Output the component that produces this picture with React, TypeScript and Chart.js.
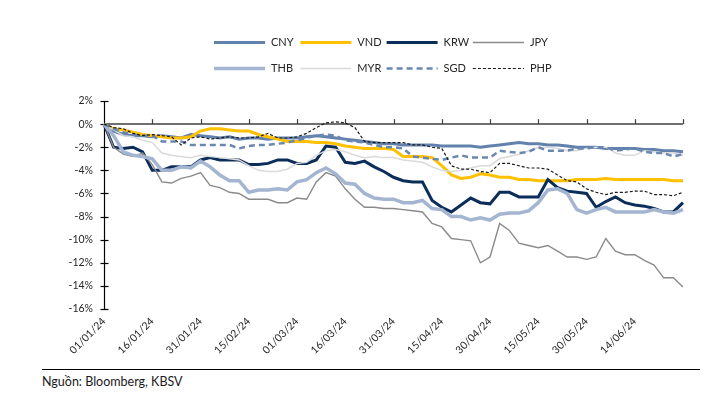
import React, { useEffect, useRef } from "react";
import { Chart, registerables } from "chart.js";
Chart.register(...registerables);

// sampling: one point every 3 days from 01/01/2024 to 29/06/2024
const STEP_DAYS = 3;
const POINT_COUNT = 61;
const TICK_EVERY = 5;
const pad2 = (n: number) => (n < 10 ? "0" + n : "" + n);
const CATEGORIES: string[] = Array.from({ length: POINT_COUNT }, (_, i) => {
  const d = new Date(2024, 0, 1 + i * STEP_DAYS);
  return `${pad2(d.getDate())}/${pad2(d.getMonth() + 1)}/${String(d.getFullYear()).slice(2)}`;
});

const TICK_LABELS = [
  "01/01/24", "16/01/24", "31/01/24", "15/02/24", "01/03/24", "16/03/24",
  "31/03/24", "15/04/24", "30/04/24", "15/05/24", "30/05/24", "14/06/24",
];

const Y_TICKS = [2, 0, -2, -4, -6, -8, -10, -12, -14, -16];

const CNY = [0, -0.6, -0.9, -1.0, -1.0, -1.1, -1.0, -1.1, -1.2, -0.9, -1.0, -1.1, -1.2, -1.1, -1.3, -1.2, -1.2, -1.3, -1.2, -1.2, -1.2, -1.1, -1.0, -1.1, -1.2, -1.3, -1.4, -1.5, -1.6, -1.7, -1.7, -1.8, -1.8, -1.8, -1.8, -1.9, -1.9, -1.9, -1.9, -2.0, -1.9, -1.8, -1.7, -1.6, -1.7, -1.7, -1.8, -1.8, -1.9, -2.0, -2.0, -2.0, -2.1, -2.1, -2.1, -2.1, -2.2, -2.2, -2.3, -2.3, -2.4];
const VND = [0, -0.4, -0.5, -0.7, -0.9, -1.0, -1.1, -1.2, -1.2, -1.1, -0.6, -0.4, -0.4, -0.5, -0.6, -0.6, -0.9, -1.1, -1.3, -1.5, -1.5, -1.5, -1.6, -1.6, -1.7, -1.9, -2.0, -2.1, -2.1, -2.1, -2.2, -2.8, -2.8, -2.8, -2.9, -3.6, -4.4, -4.7, -4.6, -4.3, -4.4, -4.6, -4.6, -4.8, -4.8, -4.9, -4.9, -4.9, -4.9, -4.8, -4.8, -4.8, -4.7, -4.8, -4.8, -4.8, -4.8, -4.8, -4.8, -4.9, -4.9];
const KRW = [0, -2.0, -2.1, -2.0, -2.4, -4.0, -4.0, -3.7, -3.7, -3.7, -3.1, -2.9, -3.1, -3.1, -3.1, -3.5, -3.5, -3.4, -3.1, -3.1, -3.4, -3.4, -3.1, -1.9, -2.0, -3.3, -3.4, -3.2, -3.7, -4.1, -4.6, -4.9, -5.0, -5.0, -6.6, -7.2, -7.6, -7.0, -6.4, -6.8, -6.9, -5.9, -5.9, -6.3, -6.3, -6.3, -4.8, -5.5, -5.8, -5.9, -6.0, -7.2, -6.7, -6.3, -6.8, -7.0, -7.1, -7.3, -7.6, -7.6, -6.8];
const JPY = [0, -2.0, -2.6, -2.8, -2.5, -3.5, -5.0, -5.1, -4.7, -4.5, -4.2, -5.3, -5.5, -5.9, -6.0, -6.5, -6.5, -6.5, -6.8, -6.8, -6.4, -6.5, -5.0, -4.2, -4.5, -5.6, -6.5, -7.2, -7.2, -7.3, -7.3, -7.4, -7.5, -7.6, -8.6, -8.9, -9.9, -10.0, -10.1, -12.0, -11.5, -8.6, -9.2, -10.3, -10.5, -10.7, -10.5, -11.0, -11.5, -11.5, -11.7, -11.5, -9.9, -11.0, -11.3, -11.3, -11.8, -12.2, -13.3, -13.3, -14.1];
const THB = [0, -1.0, -2.4, -2.7, -2.8, -3.0, -4.0, -4.0, -3.7, -3.8, -3.2, -3.7, -4.4, -4.9, -4.9, -5.9, -5.7, -5.7, -5.6, -5.7, -5.0, -4.8, -4.2, -3.8, -4.3, -5.1, -5.2, -6.0, -6.4, -6.5, -6.5, -6.8, -6.8, -6.6, -7.3, -7.4, -8.0, -8.0, -8.3, -8.1, -8.3, -7.8, -7.7, -7.7, -7.5, -6.8, -5.7, -5.6, -6.0, -7.4, -7.7, -7.4, -7.2, -7.6, -7.6, -7.6, -7.6, -7.4, -7.6, -7.7, -7.4];
const MYR = [0, -0.5, -1.0, -1.1, -1.4, -1.6, -2.5, -2.7, -2.8, -2.9, -2.7, -2.8, -2.9, -3.0, -3.1, -3.6, -4.0, -4.1, -4.1, -3.9, -3.4, -3.3, -2.7, -2.3, -2.2, -2.4, -2.7, -2.9, -2.8, -2.9, -2.9, -3.1, -3.2, -3.3, -3.7, -4.0, -4.1, -4.0, -3.8, -3.6, -3.6, -3.0, -2.8, -2.6, -2.3, -2.0, -2.0, -2.1, -2.3, -2.3, -2.1, -2.0, -2.0, -2.5, -2.7, -2.7, -2.3, -2.4, -2.5, -2.5, -2.7];
const SGD = [0, -0.4, -0.7, -0.9, -1.0, -1.0, -1.5, -1.5, -1.5, -1.8, -1.8, -1.8, -1.8, -1.8, -2.1, -1.9, -1.8, -1.8, -1.7, -1.6, -1.4, -1.2, -1.0, -0.9, -1.0, -1.4, -1.5, -1.6, -1.8, -2.0, -2.0, -2.1, -2.8, -2.9, -3.0, -3.1, -2.9, -2.7, -2.9, -2.9, -2.9, -2.3, -2.4, -2.5, -2.4, -2.0, -2.3, -2.3, -2.3, -2.1, -2.1, -2.0, -2.0, -2.3, -2.2, -2.1, -2.4, -2.5, -2.5, -2.8, -2.6];
const PHP = [0, -0.3, -0.4, -0.8, -1.0, -0.9, -1.0, -1.1, -1.8, -1.2, -1.1, -1.3, -1.2, -1.1, -1.2, -1.2, -1.1, -0.8, -1.2, -1.2, -1.1, -0.8, -0.3, 0.1, 0.2, 0.1, -0.3, -1.5, -1.6, -1.6, -1.6, -1.6, -1.8, -1.8, -2.0, -2.1, -3.6, -3.9, -3.9, -4.1, -4.2, -3.4, -3.4, -3.6, -3.8, -3.8, -3.9, -4.4, -4.9, -5.0, -5.6, -5.9, -6.1, -5.9, -5.9, -5.8, -5.8, -6.1, -6.1, -6.2, -5.9];

const SERIES = [
  { label: "CNY", data: CNY, color: "#6281AC", width: 3, dash: [] as number[] },
  { label: "VND", data: VND, color: "#FFC000", width: 3, dash: [] as number[] },
  { label: "KRW", data: KRW, color: "#0B2D5A", width: 3, dash: [] as number[] },
  { label: "JPY", data: JPY, color: "#8A8A8A", width: 1.4, dash: [] as number[] },
  { label: "THB", data: THB, color: "#A3B5D1", width: 3.5, dash: [] as number[] },
  { label: "MYR", data: MYR, color: "#DADADA", width: 1.5, dash: [] as number[] },
  { label: "SGD", data: SGD, color: "#6A87B2", width: 2.5, dash: [6, 4] },
  { label: "PHP", data: PHP, color: "#1A1A1A", width: 1.2, dash: [3, 2] },
];

const FONT = "Lato, 'Open Sans', sans-serif";

const axesPlugin = {
  id: "customAxes",
  beforeDatasetsDraw(chart: any) {
    const { ctx, chartArea, scales } = chart;
    const x = scales.x;
    const y = scales.y;
    ctx.save();
    const line = (x1: number, y1: number, x2: number, y2: number) => {
      ctx.beginPath();
      ctx.moveTo(x1, y1);
      ctx.lineTo(x2, y2);
      ctx.stroke();
    };
    // vertical axis with crossing ticks
    ctx.strokeStyle = "#000";
    ctx.lineWidth = 1.2;
    const yl = Math.round(chartArea.left) + 0.5;
    line(yl, y.getPixelForValue(Y_TICKS[0]), yl, y.getPixelForValue(Y_TICKS[Y_TICKS.length - 1]));
    Y_TICKS.forEach((v) => {
      const py = Math.round(y.getPixelForValue(v)) + 0.5;
      line(yl - 4, py, yl + 4, py);
    });
    // horizontal axis at 0 with upward ticks
    ctx.strokeStyle = "#404040";
    ctx.lineWidth = 1.5;
    const y0 = y.getPixelForValue(0);
    line(chartArea.left, y0, chartArea.right, y0);
    ctx.lineWidth = 1.2;
    CATEGORIES.forEach((_, i) => {
      if (i % TICK_EVERY === 0 && i > 0) {
        const px = Math.round(x.getPixelForValue(i)) + 0.5;
        line(px, y0, px, y0 - 5);
      }
    });
    ctx.restore();
  },
};

const legendPlugin = {
  id: "gridLegend",
  afterDraw(chart: any) {
    const { ctx } = chart;
    ctx.save();
    const startX = 206;
    const colW = 86.3;
    const rowY = [34, 60];
    chart.data.datasets.forEach((ds: any, i: number) => {
      const col = i % 4;
      const row = Math.floor(i / 4);
      const x0 = startX + col * colW;
      const yy = rowY[row] + 0.5;
      ctx.strokeStyle = ds.borderColor;
      ctx.lineWidth = ds.borderWidth;
      ctx.setLineDash(ds.borderDash || []);
      ctx.beginPath();
      ctx.moveTo(x0, yy);
      ctx.lineTo(x0 + 51, yy);
      ctx.stroke();
      ctx.setLineDash([]);
      ctx.fillStyle = "#262626";
      ctx.font = `11px ${FONT}`;
      ctx.textBaseline = "middle";
      ctx.textAlign = "left";
      ctx.fillText(ds.label, x0 + 57, yy);
    });
    ctx.restore();
  },
};

export default function App() {
  const canvasRef = useRef<HTMLCanvasElement | null>(null);

  useEffect(() => {
    if (!canvasRef.current) return;
    const chart = new Chart(canvasRef.current, {
      type: "line",
      data: {
        labels: CATEGORIES,
        datasets: SERIES.map((s, i) => ({
          label: s.label,
          data: s.data,
          borderColor: s.color,
          backgroundColor: s.color,
          borderWidth: s.width,
          borderDash: s.dash,
          pointRadius: 0,
          tension: 0,
          fill: false,
          order: SERIES.length - i,
        })),
      },
      options: {
        animation: false,
        responsive: true,
        maintainAspectRatio: false,
        layout: { padding: { top: 93, right: 31, left: 0, bottom: 0 } },
        plugins: {
          legend: { display: false },
          tooltip: { enabled: false },
        },
        scales: {
          x: {
            type: "category",
            offset: false,
            grid: { display: false, drawTicks: false },
            border: { display: false },
            ticks: {
              autoSkip: false,
              maxRotation: 45,
              minRotation: 45,
              padding: 6,
              color: "#262626",
              font: { family: FONT, size: 10.5 },
              callback: (_v: any, i: number) =>
                TICK_LABELS.includes(CATEGORIES[i]) && i % TICK_EVERY === 0 ? CATEGORIES[i] : null,
            },
            afterFit: (s: any) => {
              s.height = 57;
              s.paddingLeft = 0;
              s.paddingRight = 0;
            },
          },
          y: {
            min: -16,
            max: 2,
            grid: { display: false, drawTicks: false },
            border: { display: false },
            ticks: {
              stepSize: 2,
              padding: 11,
              color: "#262626",
              font: { family: FONT, size: 10.5 },
              callback: (v: any) => `${v}%`,
            },
            afterFit: (s: any) => {
              s.width = 96;
              s.paddingTop = 0;
              s.paddingBottom = 0;
            },
          },
        },
      },
      plugins: [axesPlugin, legendPlugin],
    });
    return () => chart.destroy();
  }, []);

  return (
    <div style={{ width: 706 }}>
      <div style={{ position: "relative", width: 706, height: 358 }}>
        <canvas ref={canvasRef} />
      </div>
      <div
        style={{
          marginLeft: 34,
          width: 658,
          borderTop: "1.5px solid #000",
          marginTop: 3,
          paddingTop: 4,
          fontFamily: FONT,
          fontSize: 12.5,
          color: "#1a1a1a",
        }}
      >
        Nguồn: Bloomberg, KBSV
      </div>
    </div>
  );
}
